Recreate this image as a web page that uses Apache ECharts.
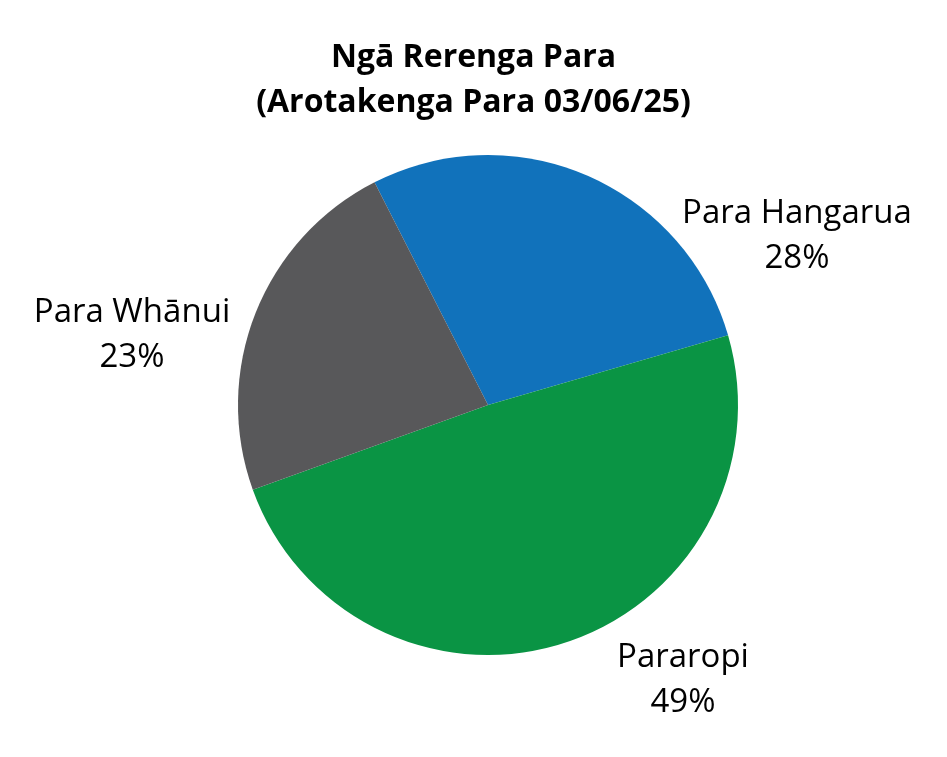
<!DOCTYPE html>
<html>
<head>
<meta charset="utf-8">
<script src="https://cdn.jsdelivr.net/npm/echarts@6/dist/echarts.min.js"></script>
<style>html,body{margin:0;padding:0;background:#fff;}#c{width:947px;height:757px;}</style>
</head>
<body>
<div id="c"></div>
<script>
var categories = ['Para Hangarua', 'Pararopi', 'Para Whānui'];
var values = [28, 49, 23];
var colors = ['#1172BB', '#0A9444', '#58585A'];
var titleText = 'Ngā Rerenga Para\n(Arotakenga Para 03/06/25)';

var labelPos = [[797, 236], [683, 680], [132, 335]];

var chart = echarts.init(document.getElementById('c'));
chart.setOption({
  backgroundColor: '#fff',
  title: {
    text: titleText,
    left: 'center',
    top: 30,
    textStyle: { fontFamily: 'Open Sans', fontWeight: 'bold', fontSize: 32, lineHeight: 45, color: '#000' }
  },
  series: [{
    type: 'pie',
    center: [488, 405],
    radius: 250,
    startAngle: 117,
    clockwise: true,
    animation: false,
    silent: true,
    data: categories.map(function (n, i) {
      return { name: n, value: values[i], itemStyle: { color: colors[i] } };
    }),
    label: {
      show: true,
      formatter: function (p) { return p.name + '\n' + p.value + '%'; },
      fontFamily: 'Open Sans',
      fontSize: 33,
      lineHeight: 45,
      color: '#000',
      align: 'center'
    },
    labelLine: { show: false },
    labelLayout: function (p) {
      var pos = labelPos[p.dataIndex];
      return { x: pos[0], y: pos[1], align: 'center', verticalAlign: 'middle' };
    }
  }]
});
</script>
</body>
</html>
